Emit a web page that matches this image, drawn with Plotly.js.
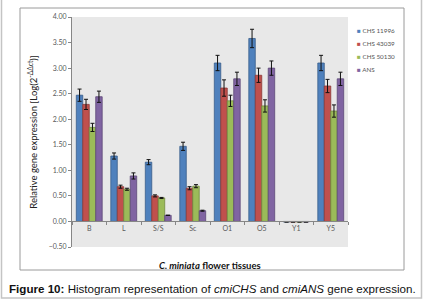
<!DOCTYPE html>
<html><head><meta charset="utf-8">
<script src="https://cdn.plot.ly/plotly-3.0.1.min.js"></script>
<style>html,body{margin:0;padding:0;background:#fff}#chart{width:423px;height:300px}</style>
</head><body><div id="chart"></div>
<script>
const categories = ["B","L","S/S","Sc","O1","O5","Y1","Y5"];
const seriesNames = ["CHS 11996","CHS 43039","CHS 50130","ANS"];
const chs1 = [2.47,1.28,1.16,1.47,3.10,3.58,-0.01,3.10];
const chs1Err = [0.12,0.06,0.05,0.08,0.15,0.18,0.0,0.15];
const chs2 = [2.29,0.68,0.50,0.65,2.61,2.86,-0.01,2.65];
const chs2Err = [0.10,0.03,0.02,0.03,0.16,0.14,0.0,0.13];
const chs3 = [1.84,0.63,0.46,0.69,2.36,2.26,-0.01,2.16];
const chs3Err = [0.08,0.02,0.01,0.03,0.11,0.12,0.0,0.12];
const ans = [2.44,0.89,0.12,0.21,2.79,3.00,-0.01,2.79];
const ansErr = [0.11,0.06,0.0,0.01,0.13,0.14,0.0,0.13];
const yTicks = [-0.5,0,0.5,1,1.5,2,2.5,3,3.5,4];

const fills = ["#4f81bd","#c0504d","#9bbb59","#8064a2"];
const edges = ["#385d8a","#8c3836","#71893f","#5c4776"];
const vals = [chs1,chs2,chs3,ans];
const errs = [chs1Err,chs2Err,chs3Err,ansErr];

const traces = vals.map((v,i)=>({type:"bar",x:categories,y:v,name:seriesNames[i],showlegend:false,
    marker:{color:fills[i],line:{color:edges[i],width:0.8}},
    error_y:{type:"data",array:errs[i],visible:true,color:"#111",thickness:1,width:2}}));

// paper coordinate helpers: plot area is 276 x 230 px starting at (72,17)
const px = x => (x-72)/276;
const py = y => (247-y)/230;

const annotations = [
  {xref:"paper",yref:"paper",x:0.5,y:py(265),xanchor:"center",yanchor:"middle",showarrow:false,
    text:"<b><i>C. miniata</i> flower tissues</b>",font:{size:9.5,color:"#111",family:"Lato, sans-serif"}},
  {xref:"paper",yref:"paper",x:px(7),y:py(288),xanchor:"left",yanchor:"middle",showarrow:false,
    text:"<b>Figure 10:</b> Histogram representation of <i>cmiCHS</i> and <i>cmiANS</i> gene expression.",
    font:{size:11.6,color:"#111",family:"'Liberation Sans', Arial, sans-serif"}}
];
seriesNames.forEach((n,i)=>{
  annotations.push({xref:"paper",yref:"paper",x:px(355),y:py(30+13.3*i),xanchor:"left",yanchor:"middle",
    showarrow:false,text:'<span style="color:'+fills[i]+'">■</span> '+n,
    font:{size:6.3,color:"#555",family:"Lato, sans-serif"}});
});

const layout = {
  width:423,height:300,
  margin:{l:72,r:75,t:17,b:53},
  paper_bgcolor:"#fff",plot_bgcolor:"#e8e8e8",
  barmode:"group",bargap:0.25,bargroupgap:0,showlegend:false,
  font:{family:"Lato, 'Open Sans', sans-serif",color:"#595959"},
  xaxis:{type:"category",anchor:"free",position:0.5/4.5,
    showline:true,linecolor:"#868686",linewidth:1,
    ticks:"outside",tickson:"boundaries",ticklen:3,tickcolor:"#868686",
    tickfont:{size:7,color:"#595959"},showgrid:false,zeroline:false,fixedrange:true},
  yaxis:{range:[-0.5,4],tickvals:yTicks,tickformat:".2f",
    showline:true,linecolor:"#868686",linewidth:1,
    ticks:"outside",ticklen:3,tickcolor:"#868686",
    tickfont:{size:7,color:"#595959"},showgrid:false,zeroline:false,
    title:{text:"Relative gene expression [Log(2<sup>-ΔΔct</sup>)]",
      font:{size:9.5,color:"#222",family:"Lato, sans-serif"},standoff:9}},
  annotations:annotations,
  shapes:[
    {type:"rect",xref:"paper",yref:"paper",x0:px(20),x1:px(404),y0:py(270),y1:py(8),
      line:{color:"#9a9a9a",width:1},layer:"above"},
    {type:"rect",xref:"paper",yref:"paper",x0:px(1.5),x1:px(421.5),y0:py(298),y1:py(-2),
      line:{color:"#c4c4c4",width:1.5},layer:"above"}
  ]
};
Plotly.newPlot("chart",traces,layout,{displayModeBar:false,staticPlot:true});
</script></body></html>
